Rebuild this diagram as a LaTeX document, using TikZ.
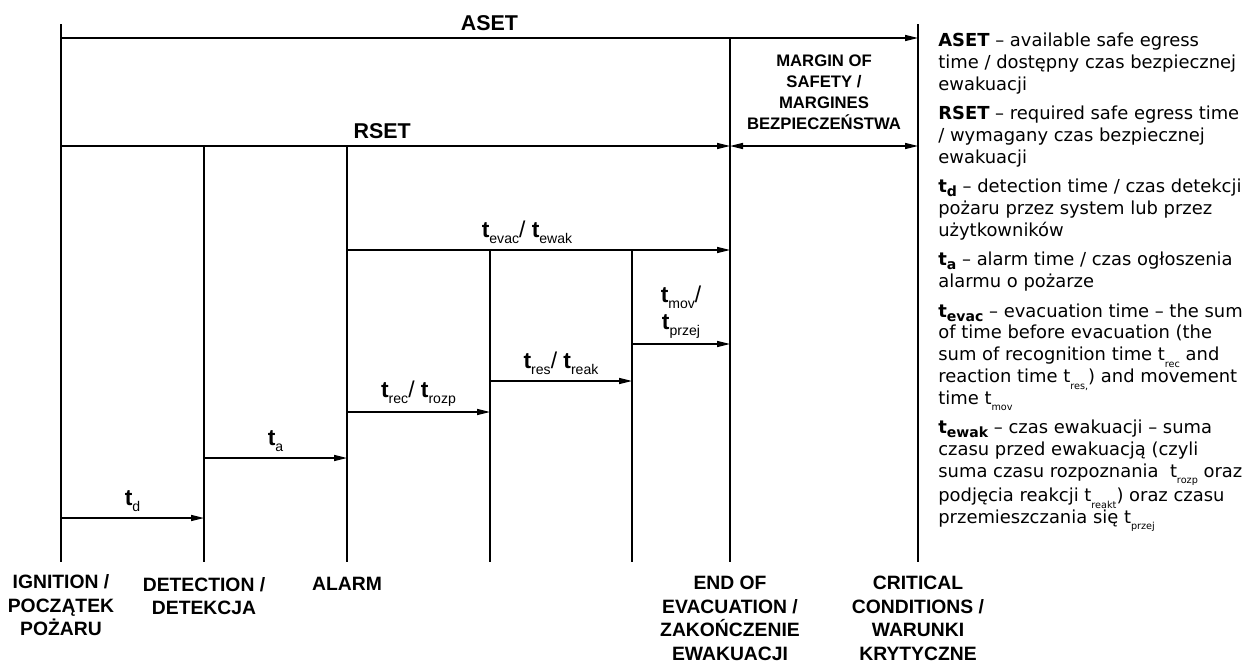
\documentclass[tikz,border=0pt]{standalone}
\usepackage{fontspec}
\setmainfont{Liberation Sans}
\newfontfamily\legendfont{DejaVu Sans}
\usetikzlibrary{arrows.meta,positioning}

\newcommand{\tbig}[1]{{\fontsize{13}{15}\selectfont\bfseries t}\raisebox{-0.5ex}{\fontsize{8}{9}\selectfont #1}}
\newcommand{\tdef}[1]{\textbf{t\raisebox{-0.4ex}{\fontsize{8}{9}\selectfont #1}}}
\newcommand{\tsub}[1]{t\raisebox{-0.7ex}{\fontsize{5.5}{6}\selectfont #1}}

\tikzset{
  tick/.style={line width=0.8pt},
  span/.style={line width=0.8pt,-{Triangle[length=2.6mm,width=1.2mm]}},
  both/.style={line width=0.8pt,{Triangle[length=2.6mm,width=1.2mm]}-{Triangle[length=2.6mm,width=1.2mm]}},
  big/.style={font=\fontsize{12.2}{14}\selectfont\bfseries,inner sep=0pt},
  tlabel/.style={font=\fontsize{13}{15}\selectfont,inner sep=0pt,align=center},
  event/.style={font=\fontsize{11}{13.4}\selectfont\bfseries,align=center,inner sep=0pt},
  margin/.style={font=\fontsize{9.5}{12}\selectfont\bfseries,align=center,inner sep=0pt},
  defs/.style={font=\legendfont\fontsize{10.2}{12.35}\selectfont,align=left,inner sep=0pt,anchor=north west},
}

\begin{document}
\begin{tikzpicture}[x=0.02cm,y=-0.02cm]
\useasboundingbox (0,0) rectangle (1257,666);
% event lines
\coordinate (ignT) at (61,24);   \coordinate (ignB) at (61,562);
\coordinate (detT) at (204,146); \coordinate (detB) at (204,562);
\coordinate (almT) at (347,146); \coordinate (almB) at (347,562);
\coordinate (recT) at (490,250); \coordinate (recB) at (490,562);
\coordinate (resT) at (632,250); \coordinate (resB) at (632,562);
\coordinate (endT) at (730,38);  \coordinate (endB) at (730,562);
\coordinate (critT) at (918,24); \coordinate (critB) at (918,562);
% heights of the arrows
\coordinate (yaset) at (0,38);
\coordinate (yrset) at (0,146);
\coordinate (yevac) at (0,250);
\coordinate (ymov) at (0,344);
\coordinate (yres) at (0,381);
\coordinate (yrec) at (0,412);
\coordinate (ya) at (0,458);
\coordinate (yd) at (0,518);
\foreach \e in {ign,det,alm,rec,res,end,crit}
  \draw[tick] (\e T) -- (\e B);
% ASET, RSET and the margin
\draw[span] (ignT |- yaset) -- (critT |- yaset) node[big,midway,above=4pt] (aset) {ASET};
\draw[span] (ignT |- yrset) -- (endT |- yrset) node[big,pos=0.48,above=3.5pt] (rset) {RSET};
\draw[both] (endT |- yrset) -- (critT |- yrset);
\node[margin] (safety) at (824,92) {MARGIN OF\\SAFETY /\\MARGINES\\BEZPIECZEŃSTWA};
% partial times
\draw[span] (almT |- yevac) -- (endT |- yevac) node[tlabel,pos=0.47,above=3pt] (tevac) {\tbig{evac}/ \tbig{ewak}};
\draw[span] (resT |- ymov) -- (endT |- ymov) node[tlabel,midway,above=3pt] (tmov) {\tbig{mov}/\\\tbig{przej}};
\draw[span] (recT |- yres) -- (resT |- yres) node[tlabel,midway,above=3pt] (tres) {\tbig{res}/ \tbig{reak}};
\draw[span] (almT |- yrec) -- (recT |- yrec) node[tlabel,midway,above=3pt] (trec) {\tbig{rec}/ \tbig{rozp}};
\draw[span] (detT |- ya) -- (almT |- ya) node[tlabel,midway,above=3pt] (ta) {\tbig{a}};
\draw[span] (ignT |- yd) -- (detT |- yd) node[tlabel,midway,above=3pt] (td) {\tbig{d}};
% events
\node[event,below=7pt of ignB] (ign) {IGNITION /\\POCZĄTEK\\POŻARU};
\node[event,below=8.5pt of detB] (det) {DETECTION /\\DETEKCJA};
\node[event,below=8.5pt of almB] (alm) {ALARM};
\node[event,below=8pt of endB] (end) {END OF\\EVACUATION /\\ZAKOŃCZENIE\\EWAKUACJI};
\node[event,below=8pt of critB] (crit) {CRITICAL\\CONDITIONS /\\WARUNKI\\KRYTYCZNE};
% legend
\node[defs] (legend) at (938,33) {\textbf{ASET} – available safe egress\\
time / dostępny czas bezpiecznej\\
ewakuacji\\[4.5pt]
\textbf{RSET} – required safe egress time\\
/ wymagany czas bezpiecznej\\
ewakuacji\\[4.5pt]
\tdef{d} – detection time / czas detekcji\\
pożaru przez system lub przez\\
użytkowników\\[4.5pt]
\tdef{a} – alarm time / czas ogłoszenia\\
alarmu o pożarze\\[4.5pt]
\tdef{evac} – evacuation time – the sum\\
of time before evacuation (the\\
sum of recognition time \tsub{rec} and\\
reaction time \tsub{res,}) and movement\\
time \tsub{mov}\\[4.5pt]
\tdef{ewak} – czas ewakuacji – suma\\
czasu przed ewakuacją (czyli\\
suma czasu rozpoznania \ \tsub{rozp} oraz\\
podjęcia reakcji \tsub{reakt}) oraz czasu\\
przemieszczania się \tsub{przej}};
\end{tikzpicture}
\end{document}
